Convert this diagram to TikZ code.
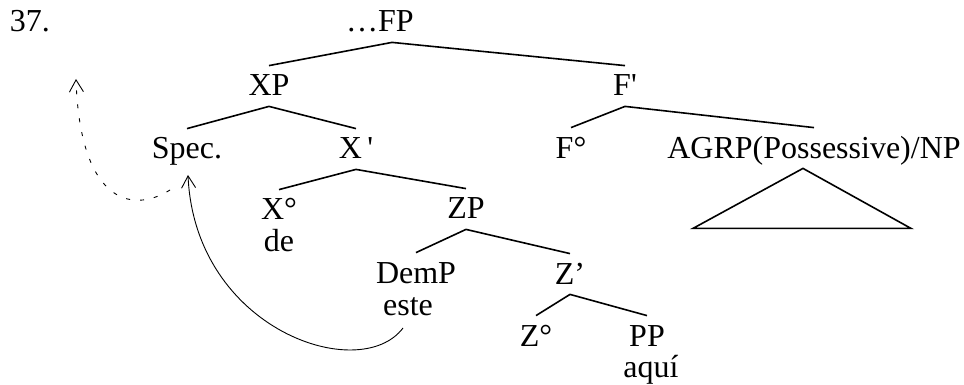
\documentclass[tikz,border=0pt]{standalone}
\usepackage{fontspec}
\setmainfont{Liberation Serif}
\usetikzlibrary{arrows.meta}
\begin{document}
\begin{tikzpicture}[x=0.5pt,y=-0.5pt,
  tn/.style={font=\fontsize{16}{19}\selectfont, anchor=base, inner xsep=0pt, inner ysep=4.5pt, text height=10.5pt, text depth=0.5pt},
  lf/.style={font=\fontsize{16}{19}\selectfont, anchor=base, inner sep=0pt, text height=15pt, text depth=0pt},
  wd/.style={font=\fontsize{16}{19}\selectfont, anchor=base, inner sep=0pt},
  br/.style={line width=0.8pt},
  mv/.style={line width=0.45pt, -{Straight Barb[length=6pt,width=7pt]}},
]
\useasboundingbox (0,0) rectangle (964,385);

\node[wd] (num) at (30,32) {37.};
\node[tn] (fp) at (380,32) {…FP};
\node[tn] (xp) at (269,96) {XP};
\node[tn] (fb) at (625,96) {F\textquotesingle};
\node[lf] (spec) at (187,159) {Spec.};
\node[tn] (xb) at (356,159) {X\,\textquotesingle};
\node[lf] (f0) at (571,158) {F°};
\node[tn] (agrp) at (814,158) {AGRP(Possessive)/NP};
\node[lf] (x0) at (279,220) {X°};
\node[wd] (de) at (279,251) {de};
\node[tn] (zp) at (466,219) {ZP};
\node[lf] (demp) at (416,283) {DemP};
\node[wd] (este) at (408,315) {este};
\node[tn] (zb) at (570,284) {Z’};
\node[lf] (z0) at (536,346) {Z°};
\node[lf] (pp) at (647,346) {PP};
\node[wd] (aqui) at (651,377) {aquí};

\draw[br] (xp.north) -- ([xshift=6pt]fp.south) -- (fb.north);
\draw[br] (spec.north) -- (xp.south) -- (xb.north);
\draw[br] (f0.north) -- (fb.south) -- (agrp.north);
\draw[br] (x0.north) -- (xb.south) -- (zp.north);
\draw[br] (demp.north) -- (zp.south) -- (zb.north);
\draw[br] (z0.north) -- (zb.south) -- (pp.north);
\draw[br] ([xshift=-5.5pt]agrp.south) -- ++(-110,60) -- ++(218,0) -- cycle;

\coordinate (top) at (76,79);
\draw[mv] ([shift={(-5,13)}]este.base) .. controls (360,385) and (195,330) .. ([shift={(1,16)}]spec.base);
\draw[mv, dash pattern=on 2pt off 5pt] ([shift={(-17,31)}]spec.base) .. controls (130,215) and (80,200) .. (top);
\end{tikzpicture}
\end{document}
